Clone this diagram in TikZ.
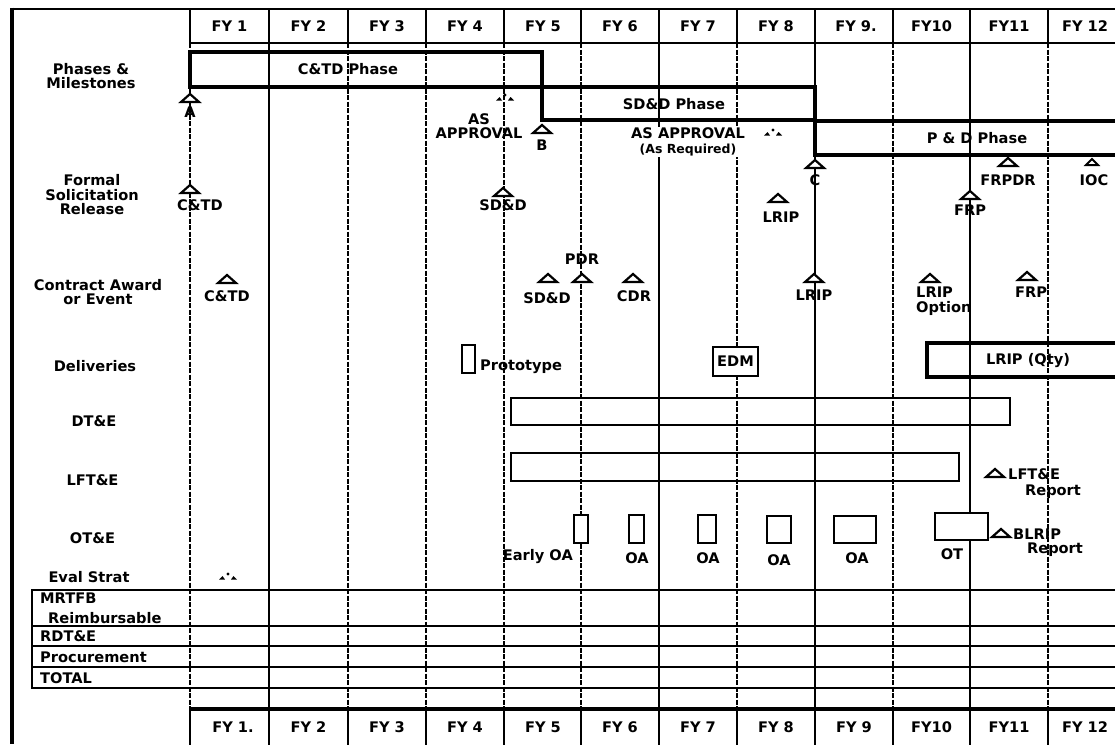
\documentclass[tikz,border=0pt]{standalone}
\usepackage{fontspec}
\setmainfont{DejaVu Sans}
\newcommand\labf{\fontsize{14.6}{14.5}\selectfont\bfseries}
\newcommand\smlf{\fontsize{12.5}{12}\selectfont\bfseries}
\tikzset{
  mtri/.pic={\draw[line width=2.2pt,fill=white] (-9,4)--(0,-4)--(9,4)--cycle;},
  mtrismall/.pic={\draw[line width=2pt,fill=white] (-6,3)--(0,-3)--(6,3)--cycle;},
  dtri/.pic={\fill (-9,2.5)--(-3,2.5)--(-5.5,-1)--cycle; \fill (3,2.5)--(9,2.5)--(5.5,-1)--cycle; \fill (0,-3) circle (1.7pt);},
}
\begin{document}
\begin{tikzpicture}[x=1pt,y=-1pt,
  every node/.style={font=\labf, inner sep=0pt},
  gsolid/.style={line width=1.2pt},
  gdash/.style={line width=1.3pt, dash pattern=on 5pt off 1.5pt},
  gdashb/.style={line width=2pt, dash pattern=on 5pt off 1.5pt},
  thickbox/.style={line width=3.2pt},
  hdr/.style={line width=2.8pt},
  obox/.style={line width=1.8pt, fill=white},
  tline/.style={line width=1.8pt},
]
\useasboundingbox (0,0) rectangle (1115,744);
\fill[white] (0,0) rectangle (1115,744);

% grid lines
\foreach \x/\s in {190/gdash,269/gsolid,348/gdash,426/gdash,504/gdash,581/gdashb,659/gsolid,737/gdash,815/gsolid,893/gdash,970/gsolid,1048/gdash}
  \draw[\s] (\x,43) -- (\x,709);

% frame
\draw[line width=3.2pt] (12,7.5) -- (12,744);
\draw[hdr] (10.5,9) -- (1116,9);

% top header
\draw[hdr] (190,9) -- (190,43) -- (1116,43);
\foreach \x in {269,348,426,504,581,659,737,815,893,970,1048}
  \draw[hdr] (\x,9) -- (\x,43);
\foreach \x/\t [count=\i] in {229.5/FY 1,308.5/FY 2,387/FY 3,465/FY 4,543/FY 5,620/FY 6,698/FY 7,776/FY 8,856/FY 9.,931.5/FY10,1009/FY11,1085/FY 12}
  \node (top\i) at (\x,26) {\t};

% bottom header
\draw[line width=3.2pt] (190,709) -- (1116,709);
\foreach \x in {190,269,348,426,504,581,659,737,815,893,970,1048}
  \draw[hdr] (\x,709) -- (\x,745);
\foreach \x/\t [count=\i] in {233/FY 1.,308.5/FY 2,387/FY 3,465/FY 4,543/FY 5,620/FY 6,698/FY 7,776/FY 8,854/FY 9,931.5/FY10,1009/FY11,1085/FY 12}
  \node (bot\i) at (\x,727) {\t};

% phase boxes
\draw[thickbox] (190,52) rectangle (542,87);
\draw[thickbox] (542,87) rectangle (815,120);
\draw[thickbox] (1120,121) -- (815,121) -- (815,155) -- (1120,155);
\node (ctdp) at (348,69) {C\&TD Phase};
\node (sddp) at (674,104) {SD\&D Phase};
\node (pdp) at (977,138) {P \& D Phase};

% left labels
\node[align=center] (lph) at (91,76) {Phases \&\\Milestones};
\node[align=center] (lfs) at (92,195) {Formal\\Solicitation\\Release};
\node[align=center] (lca) at (98,292) {Contract Award\\or Event};
\node (ldl) at (95,366) {Deliveries};
\node (ldt) at (94,421) {DT\&E};
\node (llf) at (92.5,480) {LFT\&E};
\node (lot) at (92.5,538) {OT\&E};
\node (les) at (89,577) {Eval Strat};

% milestones
\pic at (190,98) {mtri};
\node (mA) at (190,112) {A};
\pic at (505,98) {dtri};
\node[align=center] (asap1) at (479,126) {AS\\APPROVAL};
\pic at (542,129) {mtri};
\node (mB) at (542,145) {B};
\node[align=center, fill=white, inner sep=1pt] (asap2) at (688,142) {AS APPROVAL\\{\smlf (As Required)}};
\pic at (773,133) {dtri};
\pic at (815,164) {mtri};
\node (mC) at (815,180) {C};
\pic at (1008,162) {mtri};
\node (mfrpdr) at (1008,180) {FRPDR};
\pic at (1092,162) {mtrismall};
\node (mioc) at (1094,180) {IOC};

% formal solicitation release
\pic at (190,189) {mtri};
\node (fctd) at (200,205) {C\&TD};
\pic at (503,192) {mtri};
\node (fsdd) at (503,205) {SD\&D};
\pic at (778,198) {mtri};
\node (flrip) at (781,217) {LRIP};
\pic at (970,195) {mtri};
\node (ffrp) at (970,210) {FRP};

% contract award
\pic at (227,279) {mtri};
\node (cctd) at (227,296) {C\&TD};
\node (cpdr) at (582,259) {PDR};
\pic at (582,278) {mtri};
\pic at (548,278) {mtri};
\node (csdd) at (547,298) {SD\&D};
\pic at (633,278) {mtri};
\node (ccdr) at (634,296) {CDR};
\pic at (814,278) {mtri};
\node (clrip) at (814,295) {LRIP};
\pic at (930,278) {mtri};
\node[anchor=north west, align=left] (clripo) at (916,287) {LRIP\\Option};
\pic at (1027,276) {mtri};
\node (cfrp) at (1031,292) {FRP};

% deliveries
\draw[obox] (462,345) rectangle (475,373);
\node[anchor=west] (proto) at (480,367) {Prototype};
\node[draw, line width=2.4pt, fill=white, minimum width=45, minimum height=29] (edm) at (735.5,361.5) {EDM};
\draw[line width=3.2pt] (1120,343) -- (927,343) -- (927,377) -- (1120,377);
\node (lqty) at (1028,361) {LRIP (Qty)};

% DT&E, LFT&E
\draw[tline] (511,398) rectangle (1010,425);
\draw[tline] (511,453) rectangle (959,481);
\pic at (995,473) {mtri};
\node[anchor=west] (lftr) at (1008,474) {LFT\&E};
\node (lftr2) at (1053,492) {Report};

% OT&E
\draw[obox] (574,515) rectangle (588,543);
\node[anchor=east] (eoa) at (573,557) {Early OA};
\draw[obox] (629,515) rectangle (644,543);
\node (oa1) at (637,558) {OA};
\draw[obox] (698,515) rectangle (716,543);
\node (oa2) at (708,558) {OA};
\draw[obox] (767,516) rectangle (791,543);
\node (oa3) at (779,560) {OA};
\draw[obox] (834,516) rectangle (876,543);
\node (oa4) at (857,558) {OA};
\draw[obox] (935,513) rectangle (988,540);
\node (ot) at (952,554) {OT};
\pic at (1001,533) {mtri};
\node[anchor=west] (blrip) at (1013,534) {BLRIP};
\node (blr2) at (1055,550) {Report};

% eval strat
\pic at (228,577) {dtri};

% funding table
\foreach \y in {590,626,646,667,688}
  \draw[tline] (32,\y) -- (1116,\y);
\draw[line width=2.2pt] (32,589) -- (32,689);
\node[anchor=west] (t1) at (40,598) {MRTFB};
\node[anchor=west] (t1b) at (48,618) {Reimbursable};
\node[anchor=west] (t2) at (40,636.5) {RDT\&E};
\node[anchor=west] (t3) at (40,657) {Procurement};
\node[anchor=west] (t4) at (40,678.5) {TOTAL};
\end{tikzpicture}
\end{document}
